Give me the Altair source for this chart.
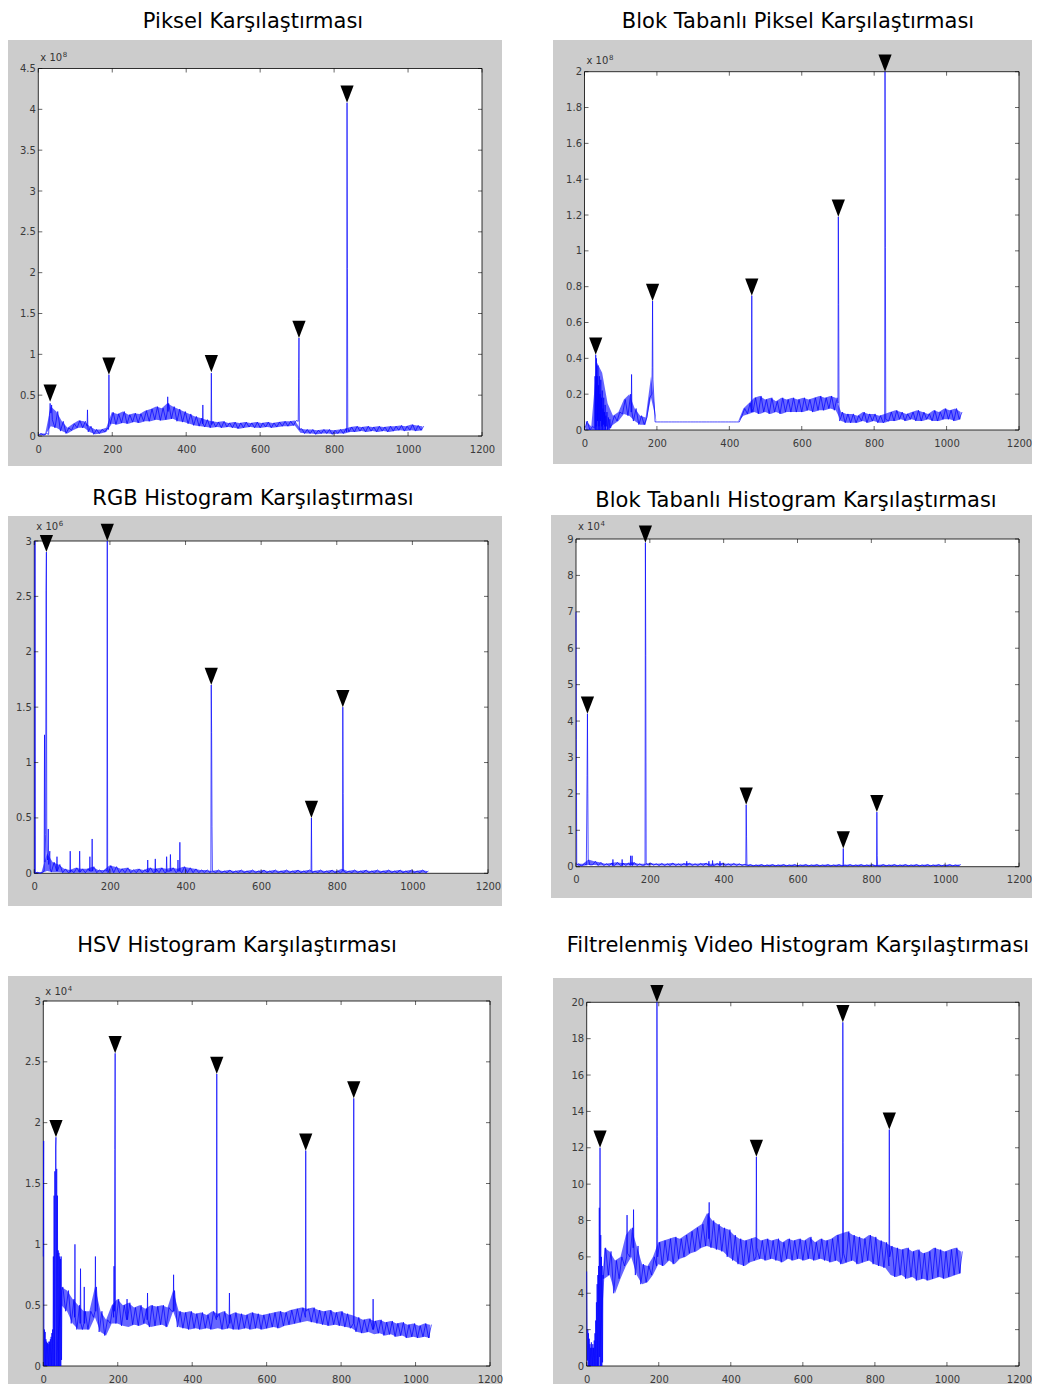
import altair as alt
import pandas as pd

# ---------------- data ----------------
# band arrays: 15-frame bins starting at frame 0 (local low / local high of the noisy curve)
P1_LO = [0.01,0.01,0.12,0.10,0.06,0.03,0.07,0.10,0.10,0.05, 0.02,0.03,0.05,0.15,0.14,0.16,0.15,0.17,0.16,0.18,
         0.18,0.20,0.19,0.20,0.21,0.18,0.17,0.15,0.13,0.12, 0.11,0.10,0.11,0.10,0.11,0.10,0.09,0.10,0.11,0.10,
         0.10,0.11,0.10,0.11,0.12,0.12,0.13,0.04,0.03,0.03, 0.02,0.03,0.03,0.02,0.03,0.03,0.05,0.05,0.06,0.05,
         0.06,0.05,0.06,0.05,0.06,0.07,0.06,0.07,0.06,0.07]
P1_HI = [0.03,0.03,0.36,0.30,0.18,0.10,0.15,0.19,0.18,0.12, 0.08,0.08,0.10,0.29,0.27,0.30,0.26,0.28,0.27,0.31,
         0.33,0.36,0.34,0.40,0.36,0.33,0.30,0.27,0.24,0.22, 0.20,0.18,0.17,0.18,0.16,0.17,0.16,0.17,0.16,0.17,
         0.16,0.17,0.16,0.17,0.18,0.18,0.19,0.09,0.08,0.08, 0.07,0.08,0.08,0.07,0.08,0.09,0.11,0.12,0.11,0.12,
         0.11,0.12,0.11,0.12,0.12,0.13,0.12,0.14,0.13,0.12]
P1_SPIKES = [
    [(28,0.02),(30,0.25),(32,0.40),(34,0.28),(36,0.38),(38,0.20)],
    [(132,0.12),(133,0.32),(134,0.12)],
    [(190,0.08),(191,0.75),(192,0.22)],
    [(349,0.30),(350,0.48),(351,0.30)],
    [(444,0.15),(445,0.38),(446,0.15)],
    [(467,0.14),(468,0.77),(469,0.14)],
    [(703,0.18),(704,0.70),(705,1.20),(706,0.08)],
    [(834,0.05),(835,4.08),(836,2.05),(837,0.10)],
]
P1_MARKS = [(32,0.42),(191,0.75),(468,0.78),(705,1.20),(835,4.08)]

P2_LO = [0.00,0.00,0.00,0.00,0.00,0.03,0.05,0.09,0.08,0.05, 0.03,0.03,0.18,0.045,0.045,0.045,0.045,0.045,0.045,0.045,
         0.045,0.045,0.045,0.045,0.045,0.045,0.045,0.045,0.045,0.08, 0.09,0.10,0.09,0.10,0.09,0.10,0.09,0.10,0.10,0.10,
         0.10,0.11,0.10,0.11,0.11,0.12,0.11,0.05,0.04,0.04, 0.04,0.05,0.04,0.05,0.04,0.04,0.05,0.05,0.06,0.05,
         0.06,0.05,0.05,0.06,0.05,0.05,0.06,0.06,0.05,0.06]
P2_HI = [0.05,0.02,0.38,0.32,0.15,0.08,0.10,0.17,0.20,0.12, 0.08,0.07,0.30,0.045,0.045,0.045,0.045,0.045,0.045,0.045,
         0.045,0.045,0.045,0.045,0.045,0.045,0.045,0.045,0.045,0.12, 0.15,0.18,0.19,0.17,0.18,0.16,0.18,0.17,0.18,0.17,
         0.18,0.17,0.18,0.19,0.18,0.19,0.18,0.10,0.09,0.09, 0.08,0.10,0.09,0.09,0.08,0.09,0.10,0.11,0.10,0.09,
         0.10,0.11,0.10,0.09,0.11,0.10,0.12,0.11,0.12,0.10]
P2_SPIKES = [
    [(28,0.01),(29,0.30),(30,0.00),(31,0.42),(32,0.02),(33,0.40),(34,0.00),(35,0.30),(36,0.05),(37,0.36),
     (38,0.00),(39,0.25),(40,0.02),(41,0.30),(42,0.00),(43,0.20),(44,0.05),(45,0.28),(46,0.00),(47,0.18),
     (48,0.02),(49,0.22),(50,0.00),(51,0.12),(52,0.03),(53,0.18),(54,0.00),(55,0.10),(56,0.02),(57,0.14),
     (58,0.00),(59,0.08),(60,0.02),(62,0.10),(64,0.00),(66,0.07),(68,0.00),(70,0.06),(72,0.01)],
    [(129,0.10),(130,0.31),(131,0.10)],
    [(186,0.20),(187,0.35),(188,0.72),(189,0.28)],
    [(461,0.10),(462,0.75),(463,0.12)],
    [(700,0.15),(701,1.19),(702,0.70),(703,0.08)],
    [(829,0.05),(830,2.00),(831,1.02),(832,0.06)],
]
P2_MARKS = [(31,0.42),(188,0.72),(462,0.75),(701,1.19),(830,2.00)]

P3_LO = [0.0,0.0,0.02,0.01,0.01] + [0.005]*65
P3_HI = [0.01,0.01,0.18,0.10,0.08,0.04,0.03,0.05,0.04,0.04, 0.06,0.03,0.03,0.07,0.06,0.04,0.05,0.03,0.04,0.03,
         0.05,0.04,0.05,0.04,0.05,0.04,0.06,0.05,0.04,0.03, 0.03,0.02,0.03,0.02,0.03,0.02,0.03,0.02,0.03,0.02,
         0.03,0.02,0.03,0.02,0.03,0.02,0.03,0.02,0.03,0.02, 0.03,0.02,0.03,0.02,0.04,0.02,0.03,0.02,0.03,0.02,
         0.03,0.02,0.03,0.02,0.03,0.02,0.03,0.02,0.03,0.02]
P3_SPIKES = [
    [(1,0.0),(2,3.0),(3,0.0)],
    [(26,0.02),(27,1.25),(28,0.10),(30,0.35),(31,2.55),(32,2.90),(33,0.20),(35,0.12),(37,0.40),(38,0.08),(41,0.20),(42,0.04)],
    [(59,0.02),(60,0.15),(61,0.02)],
    [(94,0.01),(95,0.20),(96,0.01)],
    [(119,0.01),(120,0.20),(121,0.01)],
    [(146,0.02),(147,0.15),(148,0.02),(152,0.02),(153,0.31),(154,0.02)],
    [(192,0.02),(193,3.0),(194,0.05)],
    [(299,0.01),(300,0.12),(301,0.01)],
    [(319,0.01),(320,0.13),(321,0.01)],
    [(349,0.01),(350,0.15),(351,0.02),(359,0.02),(360,0.17),(361,0.02)],
    [(379,0.02),(380,0.12),(381,0.02),(384,0.02),(385,0.28),(386,0.02)],
    [(467,0.02),(468,1.70),(469,1.27),(470,0.42),(471,0.02)],
    [(732,0.02),(733,0.50),(734,0.02)],
    [(815,0.02),(816,1.50),(817,0.72),(818,0.02)],
]
P3_MARKS = [(32,2.90),(193,3.0),(468,1.70),(733,0.50),(816,1.50)]

P4_LO = [0.02,0.02,0.05,0.05,0.03,0.03,0.03,0.03,0.03,0.03, 0.03,0.03,0.03,0.04,0.04] + [0.03]*16 + [0.02]*39
P4_HI = [0.08,0.08,0.20,0.15,0.12,0.08,0.10,0.12,0.10,0.10, 0.12,0.08,0.08,0.10,0.08,0.09,0.08,0.10,0.08,0.09,
         0.10,0.08,0.09,0.10,0.08,0.09,0.10,0.08,0.09,0.08, 0.07,0.06,0.05,0.06,0.05,0.06,0.05,0.06,0.05,0.06,
         0.05,0.06,0.05,0.06,0.05,0.06,0.05,0.06,0.05,0.06, 0.05,0.06,0.05,0.06,0.05,0.06,0.05,0.06,0.05,0.06,
         0.05,0.06,0.05,0.06,0.05,0.06,0.05,0.06,0.05,0.06]
P4_SPIKES = [
    [(0,7.0),(1,3.5),(2,0.05)],
    [(28,0.05),(29,1.2),(30,2.5),(31,4.2),(32,2.0),(33,0.20),(35,0.15),(37,0.05)],
    [(99,0.03),(100,0.20),(101,0.03)],
    [(124,0.03),(125,0.20),(126,0.03)],
    [(147,0.03),(148,0.30),(149,0.05),(151,0.05),(152,0.30),(153,0.03)],
    [(187,0.05),(188,8.9),(189,5.8),(190,0.10)],
    [(299,0.03),(300,0.15),(301,0.03)],
    [(359,0.03),(360,0.15),(361,0.03),(369,0.03),(370,0.17),(371,0.03)],
    [(389,0.03),(390,0.15),(391,0.03)],
    [(460,0.04),(461,1.70),(462,0.82),(463,0.04)],
    [(723,0.02),(724,0.50),(725,0.02)],
    [(814,0.02),(815,1.50),(816,0.30),(817,0.02)],
]
P4_MARKS = [(31,4.2),(188,8.9),(461,1.70),(724,0.50),(815,1.50)]

P5_LO = [0,0,0,0.50, 0.45,0.35,0.30,0.30,0.30,0.40, 0.28,0.25,0.35,0.35,0.33,0.32,0.34,0.33,0.35,0.32,
         0.33,0.34,0.32,0.45,0.32,0.31,0.30,0.31,0.30,0.31, 0.30,0.31,0.30,0.31,0.30,0.30,0.31,0.30,0.31,0.30,
         0.31,0.32,0.31,0.33,0.34,0.35,0.36,0.37,0.36,0.35, 0.34,0.33,0.34,0.33,0.32,0.31,0.28,0.27,0.28,0.26,
         0.27,0.25,0.26,0.24,0.25,0.23,0.24,0.23,0.24,0.23]
P5_HI = [0,0,0,0.65, 0.62,0.55,0.50,0.45,0.45,0.65, 0.45,0.38,0.50,0.55,0.50,0.52,0.48,0.50,0.47,0.50,
         0.49,0.50,0.48,0.62,0.45,0.44,0.45,0.43,0.44,0.42, 0.45,0.43,0.45,0.42,0.44,0.43,0.42,0.44,0.43,0.42,
         0.43,0.44,0.45,0.44,0.46,0.47,0.48,0.47,0.48,0.46, 0.45,0.46,0.44,0.45,0.43,0.42,0.40,0.38,0.39,0.37,
         0.38,0.36,0.37,0.35,0.36,0.34,0.35,0.33,0.35,0.34]
P5_SPIKES = [
    [(0,0.9),(1,1.85),(2,0.0),(3,0.30),(4,0.0),(5,0.28),(6,0.0),(7,0.22),(8,0.0),(9,0.20),(10,0.0),(11,0.19),
     (12,0.0),(13,0.18),(14,0.0),(15,0.20),(16,0.0),(17,0.20),(18,0.0),(19,0.22),(20,0.0),(21,0.24),(22,0.0),
     (23,0.27),(24,0.0),(25,0.30),(26,0.0),(27,0.90),(28,0.0),(29,1.40),(30,0.0),(31,1.60),(32,0.0),(33,1.80),
     (34,1.88),(35,0.0),(36,1.62),(37,0.0),(38,1.40),(39,0.0),(40,0.95),(41,0.0),(42,0.93),(43,0.0),(44,0.90),
     (45,0.0),(46,0.88),(47,0.0),(48,0.90),(49,0.05),(50,0.62)],
    [(84,0.40),(85,1.00),(86,0.40)],
    [(99,0.35),(100,0.80),(101,0.35)],
    [(109,0.35),(110,0.65),(111,0.35)],
    [(139,0.45),(140,0.90),(141,0.45)],
    [(189,0.40),(190,0.82),(191,0.45),(192,1.78),(193,2.57),(194,0.50)],
    [(224,0.38),(225,0.55),(226,0.38)],
    [(279,0.38),(280,0.60),(281,0.38)],
    [(349,0.45),(350,0.75),(351,0.45)],
    [(465,0.38),(466,2.40),(467,0.40)],
    [(499,0.35),(500,0.60),(501,0.35)],
    [(704,0.40),(705,1.77),(706,0.45)],
    [(833,0.35),(834,2.20),(835,0.35)],
    [(885,0.30),(886,0.55),(887,0.30)],
]
P5_MARKS = [(34,1.88),(193,2.57),(466,2.40),(705,1.77),(834,2.20)]

P6_LO = [0,0,0,4.8, 5.0,4.0,4.8,5.5,6.0,5.0, 4.5,4.6,5.0,5.6,5.5,5.8,5.6,5.9,6.0,6.2,
         6.3,6.5,6.6,6.5,6.4,6.3,6.0,5.8,5.6,5.5, 5.7,5.8,5.9,5.8,5.9,5.8,5.7,5.9,5.8,5.9,
         5.8,5.9,5.8,5.9,5.8,5.7,5.8,5.6,5.7,5.8, 5.6,5.7,5.8,5.6,5.5,5.4,5.0,4.9,5.0,4.8,
         4.9,4.7,4.8,4.7,4.8,4.9,4.8,4.9,5.0,5.1]
P6_HI = [0,0,0,6.5, 6.3,5.8,6.0,7.2,7.6,6.6, 5.6,5.5,6.0,6.8,6.9,7.0,7.1,7.0,7.2,7.4,
         7.6,7.8,8.4,8.0,7.8,7.6,7.5,7.2,7.0,6.9, 7.0,7.1,6.9,7.0,6.9,7.0,6.8,7.0,6.9,7.0,
         6.9,7.1,6.8,7.0,6.9,7.0,7.2,7.3,7.4,7.2, 7.1,7.0,7.2,7.1,6.9,6.8,6.6,6.5,6.4,6.5,
         6.3,6.4,6.2,6.3,6.5,6.4,6.3,6.4,6.5,6.3]
P6_SPIKES = [
    [(0,5.2),(1,2.0),(2,0.3),(3,2.0),(4,0.0),(5,1.8),(6,0.0),(7,1.5),(8,0.0),(9,1.2),(10,0.0),(11,1.0),
     (12,0.0),(13,1.3),(14,0.0),(15,1.0),(16,0.0),(17,1.2),(18,0.0),(19,1.0),(20,0.0),(21,1.4),(22,0.0),
     (23,1.8),(24,0.0),(25,2.5),(26,0.0),(27,3.5),(28,0.0),(29,4.5),(30,0.0),(31,5.0),(32,0.0),(33,5.5),
     (34,0.0),(35,8.7),(36,0.5),(37,12.0),(38,0.0),(39,7.2),(40,0.0),(41,6.0),(42,0.0),(43,5.5),(44,0.2),
     (45,5.0),(46,4.8)],
    [(111,6.0),(112,8.3),(113,6.2)],
    [(129,6.5),(130,8.6),(131,6.5)],
    [(194,5.5),(195,20.0),(196,12.6),(197,6.0)],
    [(339,7.0),(340,9.0),(341,7.0)],
    [(470,6.0),(471,11.5),(472,6.5)],
    [(710,6.0),(711,18.9),(712,12.3),(713,6.2)],
    [(839,5.5),(840,13.0),(841,6.0)],
]
P6_MARKS = [(37,12.0),(195,20.0),(471,11.5),(711,18.9),(840,13.0)]

TITLES = ["Piksel Karşılaştırması", "Blok Tabanlı Piksel Karşılaştırması",
          "RGB Histogram Karşılaştırması", "Blok Tabanlı Histogram Karşılaştırması",
          "HSV Histogram Karşılaştırması", "Filtrelenmiş Video Histogram Karşılaştırması"]
EXP_BASE = "x 10"
EXP_POWER = ["8", "8", "6", "4", "4", ""]
X_TICKS = [0, 200, 400, 600, 800, 1000, 1200]
Y_TICKS = [
    [0, 0.5, 1, 1.5, 2, 2.5, 3, 3.5, 4, 4.5],
    [0, 0.2, 0.4, 0.6, 0.8, 1, 1.2, 1.4, 1.6, 1.8, 2],
    [0, 0.5, 1, 1.5, 2, 2.5, 3],
    [0, 1, 2, 3, 4, 5, 6, 7, 8, 9],
    [0, 0.5, 1, 1.5, 2, 2.5, 3],
    [0, 2, 4, 6, 8, 10, 12, 14, 16, 18, 20],
]

# ---------------- layout (page pixels) ----------------
COLS = [(8, 520), (528, 504)]
ROWS = [(8, 468), (476, 444), (920, 464)]
# plot area l, r, t, b ; frame x0, x1, y0, y1 ; title centre x, baseline y ; exponent baseline offset
GEOM = [
    dict(plot=(38.3, 482, 68.5, 436), frame=(8, 502, 40, 466), title=(253, 27.5), exp=8),
    dict(plot=(584.5, 1019, 71.7, 430), frame=(553, 1036, 40, 464), title=(798, 27.5), exp=8),
    dict(plot=(34.3, 488, 541, 873.3), frame=(8, 502, 516, 906), title=(253, 505), exp=11),
    dict(plot=(576, 1019, 539, 866.7), frame=(551, 1036, 515, 898), title=(796, 507), exp=9),
    dict(plot=(43.3, 490, 1001, 1366), frame=(8, 502, 976, 1388), title=(237, 952), exp=6),
    dict(plot=(586.7, 1019, 1002.3, 1366), frame=(553, 1038, 978, 1388), title=(798, 952), exp=7),
]
SERIES = [
    (P1_LO, P1_HI, P1_SPIKES, P1_MARKS),
    (P2_LO, P2_HI, P2_SPIKES, P2_MARKS),
    (P3_LO, P3_HI, P3_SPIKES, P3_MARKS),
    (P4_LO, P4_HI, P4_SPIKES, P4_MARKS),
    (P5_LO, P5_HI, P5_SPIKES, P5_MARKS),
    (P6_LO, P6_HI, P6_SPIKES, P6_MARKS),
]

FONT = "DejaVu Sans"
ONE = pd.DataFrame({"d": [0]})
TRI = "M-1,-2.6L1,-2.6L0,0Z"
BLUE = "#0000ff"


def series_frame(lo, hi, groups):
    spans = [(min(f for f, _ in g) - 0.5, max(f for f, _ in g) + 0.5) for g in groups]
    pts = []
    for i, (a, b) in enumerate(zip(lo, hi)):
        for f, v in ((15 * i, a), (15 * i + 7.5, b)):
            if not any(s0 <= f <= s1 for s0, s1 in spans):
                pts.append((f, v))
    for g in groups:
        pts.extend(g)
    pts.sort()
    return pd.DataFrame(pts, columns=["frame", "value"])


def band_frame(lo, hi):
    return pd.DataFrame({"frame": [15 * i + 3.75 for i in range(len(lo))], "value": lo, "upper": hi})


def panel(k):
    cx, cw = COLS[k % 2]
    cy, ch = ROWS[k // 2]
    g = GEOM[k]
    pl, pr, pt, pb = g["plot"][0] - cx, g["plot"][1] - cx, g["plot"][2] - cy, g["plot"][3] - cy
    fx0, fx1, fy0, fy1 = g["frame"][0] - cx, g["frame"][1] - cx, g["frame"][2] - cy, g["frame"][3] - cy
    fx1 = min(fx1, cw)
    fy1 = min(fy1, ch)
    lo, hi, groups, marks = SERIES[k]
    yt = Y_TICKS[k]
    ymax = yt[-1]

    xs = alt.Scale(domain=[0, 1200], range=[pl, pr], nice=False, zero=False)
    ys = alt.Scale(domain=[0, ymax], range=[pb, pt], nice=False, zero=False)
    X = alt.X("frame:Q", scale=xs, title=None,
              axis=alt.Axis(values=X_TICKS, format="d", domain=False, ticks=False, tickSize=0,
                            grid=False, offset=-(ch - pb), labelPadding=8, labelFont=FONT,
                            labelFontSize=10, labelColor="#3a3a3a", labelFlush=False,
                            labelOverlap=False, zindex=2))
    Y = alt.Y("value:Q", scale=ys, title=None,
              axis=alt.Axis(values=yt, format="~g", domain=False, ticks=False, tickSize=0,
                            grid=False, offset=-pl, labelPadding=3, labelFont=FONT,
                            labelFontSize=10, labelColor="#3a3a3a", labelFlush=False,
                            labelOverlap=False, zindex=2))

    frame = alt.Chart(ONE).mark_rect(color="#cccccc").encode(
        x=alt.value(fx0), x2=alt.value(fx1), y=alt.value(fy0), y2=alt.value(fy1))
    box = alt.Chart(ONE).mark_rect(fill="white", stroke="black", strokeWidth=0.8).encode(
        x=alt.value(pl), x2=alt.value(pr), y=alt.value(pt), y2=alt.value(pb))

    band = alt.Chart(band_frame(lo, hi)).mark_area(color=BLUE, opacity=0.6, interpolate="linear").encode(
        x=X, y=Y, y2="upper:Q")
    df = series_frame(lo, hi, groups)
    line = alt.Chart(df).mark_line(color=BLUE, strokeWidth=0.7).encode(x=X, y=Y, order="frame:Q")

    xt = pd.DataFrame({"frame": X_TICKS})
    ytd = pd.DataFrame({"value": yt})
    tick_style = dict(color="#000000", strokeWidth=0.6)
    xb = alt.Chart(xt).mark_rule(**tick_style).encode(x=X, y=alt.value(pb - 4), y2=alt.value(pb))
    xtp = alt.Chart(xt).mark_rule(**tick_style).encode(x=X, y=alt.value(pt), y2=alt.value(pt + 4))
    yl = alt.Chart(ytd).mark_rule(**tick_style).encode(y=Y, x=alt.value(pl), x2=alt.value(pl + 4))
    yr = alt.Chart(ytd).mark_rule(**tick_style).encode(y=Y, x=alt.value(pr - 4), x2=alt.value(pr))

    mk = pd.DataFrame(marks, columns=["frame", "value"])
    markers = alt.Chart(mk).mark_point(shape=TRI, size=175, filled=True, color="black",
                                       opacity=1, strokeWidth=0).encode(x=X, y=Y)

    tcx, tby = g["title"][0] - cx, g["title"][1] - cy
    title = alt.Chart(ONE).mark_text(text=TITLES[k], font=FONT, fontSize=21, color="black",
                                     align="center", baseline="alphabetic").encode(
        x=alt.value(tcx), y=alt.value(tby))
    layers = [frame, box, band, line, xb, xtp, yl, yr, markers, title]
    if EXP_POWER[k]:
        eb = pt - g["exp"]
        ex = alt.Chart(ONE).mark_text(text=EXP_BASE, font=FONT, fontSize=10, color="#333333",
                                      align="left", baseline="alphabetic").encode(
            x=alt.value(pl + 2), y=alt.value(eb))
        ep = alt.Chart(ONE).mark_text(text=EXP_POWER[k], font=FONT, fontSize=7, color="#333333",
                                      align="left", baseline="alphabetic").encode(
            x=alt.value(pl + 24.5), y=alt.value(eb - 4))
        layers += [ex, ep]
    return alt.layer(*layers).properties(width=cw, height=ch)


chart = alt.concat(*[panel(k) for k in range(6)], columns=2, spacing=0, bounds="flush").properties(
    padding=0, background="white"
).configure_view(strokeWidth=0)

chart.save("out.html", embed_options={"renderer": "svg", "actions": False})
